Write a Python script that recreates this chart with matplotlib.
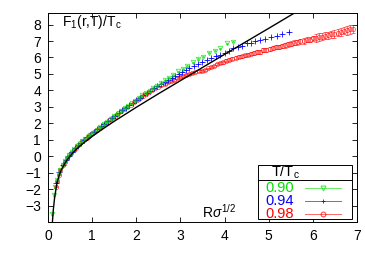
import numpy as np
import matplotlib
matplotlib.use("Agg")
import matplotlib.pyplot as plt
from matplotlib.patches import Rectangle

plt.rcParams['font.family'] = ['Liberation Sans', 'DejaVu Sans']
plt.rcParams['mathtext.fontset'] = 'custom'
plt.rcParams['mathtext.rm'] = 'Liberation Sans'
plt.rcParams['mathtext.it'] = 'Liberation Sans:italic'

# T/Tc = 0.98 (red)
red_x = [0.17, 0.2, 0.24, 0.28, 0.33, 0.38, 0.43, 0.48, 0.53, 0.58,
         0.63, 0.68, 0.73, 0.78, 0.83, 0.88, 0.93, 0.98, 1.04, 1.1,
         1.17, 1.24, 1.31, 1.38, 1.45, 1.52, 1.59, 1.66, 1.73, 1.8,
         1.87, 1.94, 2.01, 2.08, 2.15, 2.22, 2.29, 2.36, 2.43, 2.5,
         2.57, 2.64, 2.71, 2.78, 2.85, 2.92, 2.99, 3.06, 3.13, 3.2,
         3.27, 3.34, 3.41, 3.48, 3.55, 3.62, 3.69, 3.76, 3.83, 3.9,
         3.97, 4.04, 4.11, 4.18, 4.25, 4.32, 4.39, 4.46, 4.53, 4.6,
         4.67, 4.74, 4.81, 4.88, 4.95, 5.02, 5.09, 5.16, 5.23, 5.3,
         5.37, 5.44, 5.51, 5.58, 5.65, 5.72, 5.79, 5.86, 5.93, 6.0,
         6.07, 6.14, 6.21, 6.28, 6.35, 6.42, 6.49, 6.56, 6.63, 6.7,
         6.77, 6.84, 6.9]
red_y = [-1.85, -1.52, -1.12, -0.85, -0.56, -0.33, -0.12, 0.06, 0.22, 0.37,
         0.52, 0.65, 0.78, 0.90, 1.02, 1.13, 1.24, 1.35, 1.47, 1.59,
         1.74, 1.89, 2.03, 2.18, 2.32, 2.46, 2.60, 2.74, 2.88, 3.01,
         3.14, 3.28, 3.41, 3.54, 3.67, 3.80, 3.92, 4.03, 4.13, 4.22,
         4.31, 4.40, 4.48, 4.57, 4.65, 4.73, 4.81, 4.87, 4.93, 5.00,
         5.05, 5.10, 5.15, 5.19, 5.26, 5.33, 5.41, 5.50, 5.58, 5.65,
         5.72, 5.79, 5.86, 5.93, 5.98, 6.03, 6.08, 6.12, 6.17, 6.22,
         6.27, 6.33, 6.36, 6.43, 6.46, 6.53, 6.56, 6.62, 6.65, 6.71,
         6.74, 6.80, 6.83, 6.89, 6.92, 6.98, 7.00, 7.07, 7.09, 7.16,
         7.18, 7.24, 7.26, 7.32, 7.34, 7.40, 7.43, 7.51, 7.55, 7.62,
         7.64, 7.71, 7.72]
red_err = [0.04] * 40 + [0.06] * 20 + [0.09] * 10 + [0.12] * 10 + \
          [0.16] * 10 + [0.22] * 10 + [0.26] * 3

# T/Tc = 0.94 (blue)
blue_x = [0.19, 0.26, 0.33, 0.4, 0.47, 0.54, 0.61, 0.68, 0.75, 0.82,
          0.89, 0.96, 1.04, 1.12, 1.2, 1.28, 1.36, 1.44, 1.52, 1.6,
          1.68, 1.76, 1.84, 1.92, 2.0, 2.08, 2.16, 2.24, 2.32, 2.4,
          2.48, 2.56, 2.64, 2.72, 2.8, 2.88, 2.96, 3.04, 3.12, 3.2,
          3.3, 3.4, 3.5, 3.6, 3.7, 3.8, 3.9, 4.0, 4.1, 4.2,
          4.3, 4.4, 4.5, 4.6, 4.7, 4.8, 4.92, 5.05, 5.18, 5.3, 5.45]
blue_y = [-1.62, -0.98, -0.54, -0.23, 0.03, 0.26, 0.47, 0.65, 0.83, 0.99,
          1.15, 1.30, 1.47, 1.64, 1.81, 1.97, 2.14, 2.30, 2.46, 2.62,
          2.78, 2.94, 3.10, 3.25, 3.41, 3.56, 3.71, 3.85, 3.99, 4.13,
          4.27, 4.40, 4.53, 4.65, 4.78, 4.90, 5.02, 5.13, 5.25, 5.37,
          5.50, 5.62, 5.75, 5.85, 5.98, 6.08, 6.18, 6.30, 6.42, 6.55,
          6.63, 6.72, 6.85, 6.90, 6.98, 7.05, 7.12, 7.25, 7.33, 7.45, 7.55]

# T/Tc = 0.90 (green)
green_x = [0.10, 0.13, 0.16, 0.2, 0.24, 0.28, 0.33, 0.38, 0.43, 0.48,
           0.54, 0.6, 0.66, 0.72, 0.78, 0.84, 0.9, 0.96, 1.02, 1.1,
           1.18, 1.26, 1.34, 1.42, 1.5, 1.58, 1.66, 1.74, 1.82, 1.9,
           1.98, 2.06, 2.14, 2.22, 2.3, 2.38, 2.46, 2.55, 2.64, 2.74,
           2.84, 2.95, 3.05, 3.16, 3.28, 3.4, 3.52, 3.65, 3.78, 3.9,
           4.05, 4.2]
green_y = [-3.5, -2.35, -1.9, -1.45, -1.1, -0.83, -0.55, -0.3, -0.1, 0.07,
           0.26, 0.45, 0.6, 0.76, 0.9, 1.04, 1.18, 1.31, 1.43, 1.6,
           1.77, 1.93, 2.1, 2.26, 2.42, 2.58, 2.74, 2.9, 3.06, 3.21,
           3.38, 3.53, 3.69, 3.83, 3.98, 4.13, 4.28, 4.44, 4.6, 4.78,
           4.96, 5.15, 5.32, 5.5, 5.7, 5.9, 6.05, 6.3, 6.42, 6.55,
           6.85, 6.97]

# fitted T=0 potential (black curve)
fit_x = [0.1, 0.12, 0.15, 0.2, 0.25, 0.3, 0.4, 0.5, 0.6, 0.7, 0.8, 1.0,
         1.2, 1.5, 2.0, 2.5, 3.0, 3.5, 4.0, 4.5, 5.0, 5.6]
fit_y = [-4.0, -3.28, -2.52, -1.68, -1.19, -0.84, -0.35, 0.01, 0.31, 0.56,
         0.79, 1.20, 1.58, 2.12, 2.97, 3.79, 4.59, 5.39, 6.19, 6.98, 7.77, 8.73]

labels = ['0.90', '0.94', '0.98']
colors = ['#00e000', '#0000ff', '#ff0000']

fig = plt.figure(figsize=(3.65, 2.56), dpi=100)
ax = fig.add_axes([0.1315, 0.133, 0.8465, 0.816])

ax.errorbar(red_x, red_y, yerr=red_err, fmt='o', ms=3, mfc='none', mec=colors[2],
            mew=0.6, ecolor=colors[2], elinewidth=0.6, capsize=1.2, alpha=0.65, zorder=2)
ax.errorbar(blue_x, blue_y, yerr=0.05, xerr=0.03, fmt='+', ms=4, mec=colors[1],
            mew=0.7, ecolor=colors[1], elinewidth=0.6, capsize=0, alpha=0.8, zorder=3)
ax.errorbar(green_x, green_y, yerr=0.05, fmt='v', ms=3.2, mfc='none', mec=colors[0],
            mew=0.6, ecolor=colors[0], elinewidth=0.6, capsize=1, alpha=0.75, zorder=4)
ax.plot(fit_x, fit_y, color='black', lw=1.0, zorder=5)

ax.set_xlim(0, 7)
ax.set_ylim(-4, 8.7)
ax.set_xticks(range(0, 8))
ax.set_yticks(range(-3, 9))
ax.tick_params(direction='in', top=True, right=True, length=3.5, width=0.6,
               labelsize=10, pad=5)
for s in ax.spines.values():
    s.set_linewidth(0.7)

ax.text(0.045, 0.955, r'F$_1$(r,T)/T$_\mathrm{c}$', transform=ax.transAxes,
        fontsize=10, va='center', ha='left')
ax.text(0.50, 0.05, r'R$\sigma^{1/2}$', transform=ax.transAxes,
        fontsize=10, va='center', ha='left')

# legend box drawn like gnuplot's
bx0, bx1, by0, by1, bsep = 0.680, 0.984, 0.014, 0.273, 0.201
ax.add_patch(Rectangle((bx0, by0), bx1 - bx0, by1 - by0, transform=ax.transAxes,
                       facecolor='white', edgecolor='black', lw=0.7, zorder=10))
ax.plot([bx0, bx1], [bsep, bsep], transform=ax.transAxes, color='black', lw=0.7, zorder=11)
ax.text(0.722, 0.240, r'T/T$_\mathrm{c}$', transform=ax.transAxes, fontsize=10.5,
        va='center', ha='left', zorder=11)
markers = ['v', '+', 'o']
rows = [0.164, 0.100, 0.038]
for lab, col, mk, yy in zip(labels, colors, markers, rows):
    ax.text(0.795, yy, lab, transform=ax.transAxes, fontsize=10.5, color=col,
            va='center', ha='right', zorder=11)
    ax.plot([0.832, 0.948], [yy, yy], transform=ax.transAxes, color=col, lw=0.7,
            alpha=0.6, zorder=11)
    ax.plot([0.89], [yy], transform=ax.transAxes, marker=mk, ms=3.5, mfc='none',
            mec=col, mew=0.7, alpha=0.8, zorder=12)

fig.savefig('out.png', dpi=100)
